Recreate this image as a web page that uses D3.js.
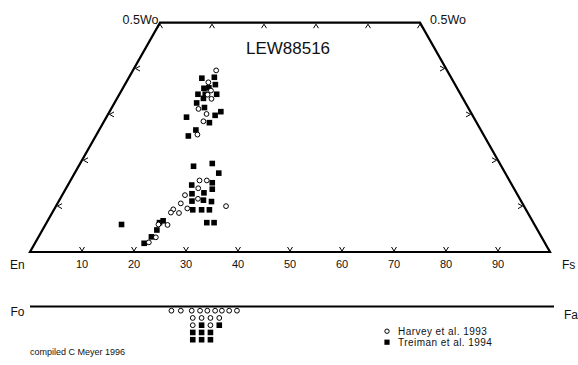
<!DOCTYPE html>
<html>
<head>
<meta charset="utf-8">
<script src="https://cdn.jsdelivr.net/npm/d3@7"></script>
<style>
  body { margin: 0; background: #fff; }
  text { font-family: "Liberation Sans", Arial, Helvetica, sans-serif; fill: #111; }
</style>
</head>
<body>
<div id="chart"></div>
<script>
// pyroxene compositions, [Wo, Fs] in mol %
var harveyPx = [
  [39.6,16.0],[37.0,15.8],[35.2,17.2],[34.3,17.0],[33.4,18.2],[31.2,16.8],[30.1,18.9],[28.5,19.1],[25.6,19.4],
  [15.6,24.8],[15.6,26.2],[13.9,25.4],[12.4,23.6],[11.6,26.5],[10.6,23.7],[9.5,25.5],[10.0,32.7],
  [9.3,22.9],[8.6,22.8],[8.5,24.4],[5.9,23.5],[6.0,21.7],[3.2,22.6],[2.1,21.8]
];
var treimanPx = [
  [37.9,14.1],[38.1,16.4],[36.5,17.4],[35.7,15.6],[35.8,16.5],[34.4,15.1],[34.4,16.5],[34.4,18.7],[33.5,16.6],
  [32.5,15.8],[31.5,17.8],[29.8,20.7],[30.6,21.4],[29.4,15.4],[28.2,20.4],[26.6,18.6],[25.3,17.8],
  [18.7,22.1],[19.3,25.4],[17.2,27.7],[14.6,23.8],[15.1,27.5],[12.9,27.0],[13.7,28.2],[12.7,24.8],
  [11.1,25.6],[11.3,27.7],[11.0,29.4],[9.2,26.7],[9.2,28.4],[9.2,29.9],[6.4,30.8],[6.4,32.2],
  [6.0,14.6],[6.8,22.2],[6.4,21.7],[4.8,22.0],[3.3,21.7],[1.9,21.0]
];
// olivine, [Fa, stack level]
var harveyOl = [
  [27.2,0],[29.0,0],[31.1,0],[32.7,0],[34.1,0],[35.6,0],[36.9,0],[38.3,0],[39.8,0],
  [31.3,1],[33.0,1],[34.7,1],[36.4,1],
  [31.3,2],[34.7,2]
];
var treimanOl = [
  [33.0,2],[36.4,2],
  [31.3,3],[33.0,3],[34.7,3],
  [31.3,4],[33.0,4],[34.7,4]
];
var bottomTicks = [10,20,30,40,50,60,70,80,90];
var topTicks = [0,10,20,30,40,50];
var sideTicks = [10,20,30,40];

var w=578,h=365;
var svg=d3.select("#chart").append("svg").attr("width",w).attr("height",h);

var x=d3.scaleLinear().domain([0,100]).range([30,550]);
var y=d3.scaleLinear().domain([0,50]).range([252,22.7]);
var olY=d3.scaleLinear().domain([0,4]).range([310.7,339.7]);

function px(d){return x(d[1]+d[0]/2);}
function py(d){return y(d[0]);}

// quadrilateral
var corners=[[0,0],[0,100],[50,50],[50,0]];
svg.append("path")
   .attr("d",d3.line()(corners.map(function(c){return [x(c[1]+c[0]/2),y(c[0])];}))+"Z")
   .attr("fill","none").attr("stroke","#000").attr("stroke-width",2.2).attr("stroke-linejoin","miter");

// chevron ticks
var tk=svg.append("g").attr("fill","none").attr("stroke","#000").attr("stroke-width",1);
bottomTicks.forEach(function(f){
  var tx=x(f),ty=y(0);
  tk.append("path").attr("d","M"+(tx-2.5)+","+(ty-5)+"L"+tx+","+(ty-1)+"L"+(tx+2.5)+","+(ty-5));
});
topTicks.forEach(function(f){
  var tx=x(f+25),ty=y(50);
  tk.append("path").attr("d","M"+(tx-2.5)+","+(ty+5.5)+"L"+tx+","+(ty+1.5)+"L"+(tx+2.5)+","+(ty+5.5));
});
sideTicks.forEach(function(wo){
  var lx=x(wo/2)+1.5,ly=y(wo);
  tk.append("path").attr("d","M"+(lx+4.5)+","+(ly-2.5)+"L"+lx+","+ly+"L"+(lx+4.5)+","+(ly+2.5));
  var rx=x(100-wo/2)-1.5;
  tk.append("path").attr("d","M"+(rx-4.5)+","+(ly-2.5)+"L"+rx+","+ly+"L"+(rx-4.5)+","+(ly+2.5));
});

// tick labels
svg.append("g").selectAll("text").data(bottomTicks).enter().append("text")
   .attr("x",function(d){return x(d);}).attr("y",267.5).attr("text-anchor","middle")
   .style("font-size","11px").text(function(d){return d;});

svg.append("text").attr("x",10).attr("y",268.5).style("font-size","12px").text("En");
svg.append("text").attr("x",562).attr("y",268.5).style("font-size","12px").text("Fs");
svg.append("text").attr("x",158.5).attr("y",24).attr("text-anchor","end").style("font-size","12.5px").text("0.5Wo");
svg.append("text").attr("x",430).attr("y",24).style("font-size","12.5px").text("0.5Wo");
svg.append("text").attr("x",288).attr("y",53.8).attr("text-anchor","middle").style("font-size","17px").text("LEW88516");

// pyroxene points
svg.append("g").selectAll("rect").data(treimanPx).enter().append("rect")
   .attr("x",function(d){return px(d)-2.8;}).attr("y",function(d){return py(d)-2.8;})
   .attr("width",5.6).attr("height",5.6).attr("fill","#000");
svg.append("g").selectAll("circle").data(harveyPx).enter().append("circle")
   .attr("cx",px).attr("cy",py).attr("r",2.4)
   .attr("fill","#fff").attr("stroke","#000").attr("stroke-width",1);

// olivine line
svg.append("line").attr("x1",x(0)).attr("x2",x(100)+4).attr("y1",306.5).attr("y2",306.5)
   .attr("stroke","#000").attr("stroke-width",2);
svg.append("text").attr("x",10.5).attr("y",316).style("font-size","12px").text("Fo");
svg.append("text").attr("x",564).attr("y",319).style("font-size","12px").text("Fa");

svg.append("g").selectAll("rect").data(treimanOl).enter().append("rect")
   .attr("x",function(d){return x(d[0])-2.8;}).attr("y",function(d){return olY(d[1])-2.8;})
   .attr("width",5.6).attr("height",5.6).attr("fill","#000");
svg.append("g").selectAll("circle").data(harveyOl).enter().append("circle")
   .attr("cx",function(d){return x(d[0]);}).attr("cy",function(d){return olY(d[1]);}).attr("r",2.4)
   .attr("fill","#fff").attr("stroke","#000").attr("stroke-width",1);

// legend
var legend=[{sym:"circle",label:"Harvey et al. 1993"},{sym:"square",label:"Treiman et al. 1994"}];
var lg=svg.append("g").selectAll("g").data(legend).enter().append("g")
   .attr("transform",function(d,i){return "translate(387,"+(331.2+i*11)+")";});
lg.each(function(d){
  var g=d3.select(this);
  if(d.sym=="circle") g.append("circle").attr("r",2.2).attr("fill","#fff").attr("stroke","#000");
  else g.append("rect").attr("x",-2.6).attr("y",-2.6).attr("width",5.2).attr("height",5.2).attr("fill","#000");
});
lg.append("text").attr("x",11).attr("y",3.6).style("font-size","10px").style("letter-spacing","0.45px")
  .text(function(d){return d.label;});

svg.append("text").attr("x",30).attr("y",355).style("font-size","9px").text("compiled C Meyer 1996");
</script>
</body>
</html>
